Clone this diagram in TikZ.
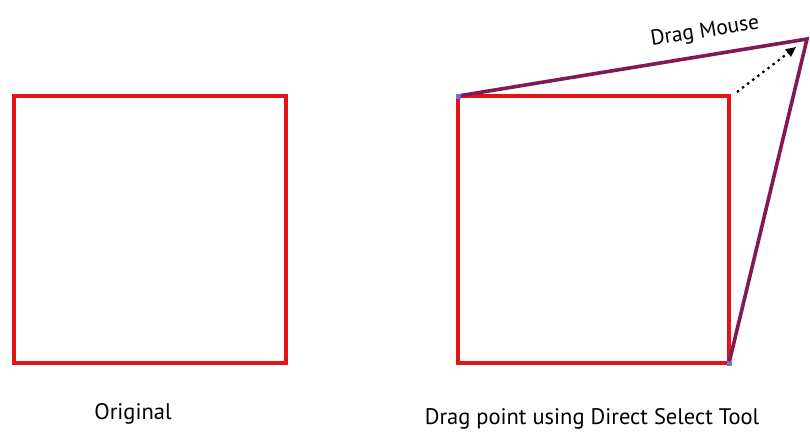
\documentclass[tikz,border=0pt]{standalone}
\usepackage{fontspec}
\setmainfont{PT Sans}
\usetikzlibrary{arrows.meta,calc}
\definecolor{boxred}{RGB}{226,20,20}
\definecolor{pathpurple}{RGB}{130,24,86}
\definecolor{handleblue}{RGB}{110,110,235}
\tikzset{
  redbox/.style={draw=boxred, line width=4pt},
  dragline/.style={draw=pathpurple, line width=3.6pt, line cap=round},
  handle/.style={fill=handleblue, draw=none},
  caption/.style={font=\fontsize{22.5}{26}\selectfont, text=black}
}
\begin{document}
\begin{tikzpicture}[x=1pt,y=-1pt]
\useasboundingbox (0,0) rectangle (810,434);
% original square
\draw[redbox] (14,96) rectangle (286,363);
\node[caption] (orig) at (133,414) {Original};
% square with dragged corner
\coordinate (tl) at (458,96);
\coordinate (br) at (729,363);
\coordinate (drag) at (807,39);
\draw[redbox] (tl) rectangle (br);
\draw[dragline] (tl) -- (drag) -- (br);
\fill[handle] ($(tl)+(-2.5,-2.5)$) rectangle ++(5,5);
\fill[handle] ($(br)+(-2.5,-2.5)$) rectangle ++(5,5);
\coordinate (from) at (737,92);
\coordinate (to) at (796,47);
\draw[line width=2.2pt, dash pattern=on 2.4pt off 4pt, -{Triangle[length=10pt,width=9pt]}] (from) -- (to);
\node[caption, font=\fontsize{21.5}{24}\selectfont, rotate=9] (mouse) at (705,32) {Drag Mouse};
\node[caption] (tool) at (592,419) {Drag point using Direct Select Tool};
\end{tikzpicture}
\end{document}
